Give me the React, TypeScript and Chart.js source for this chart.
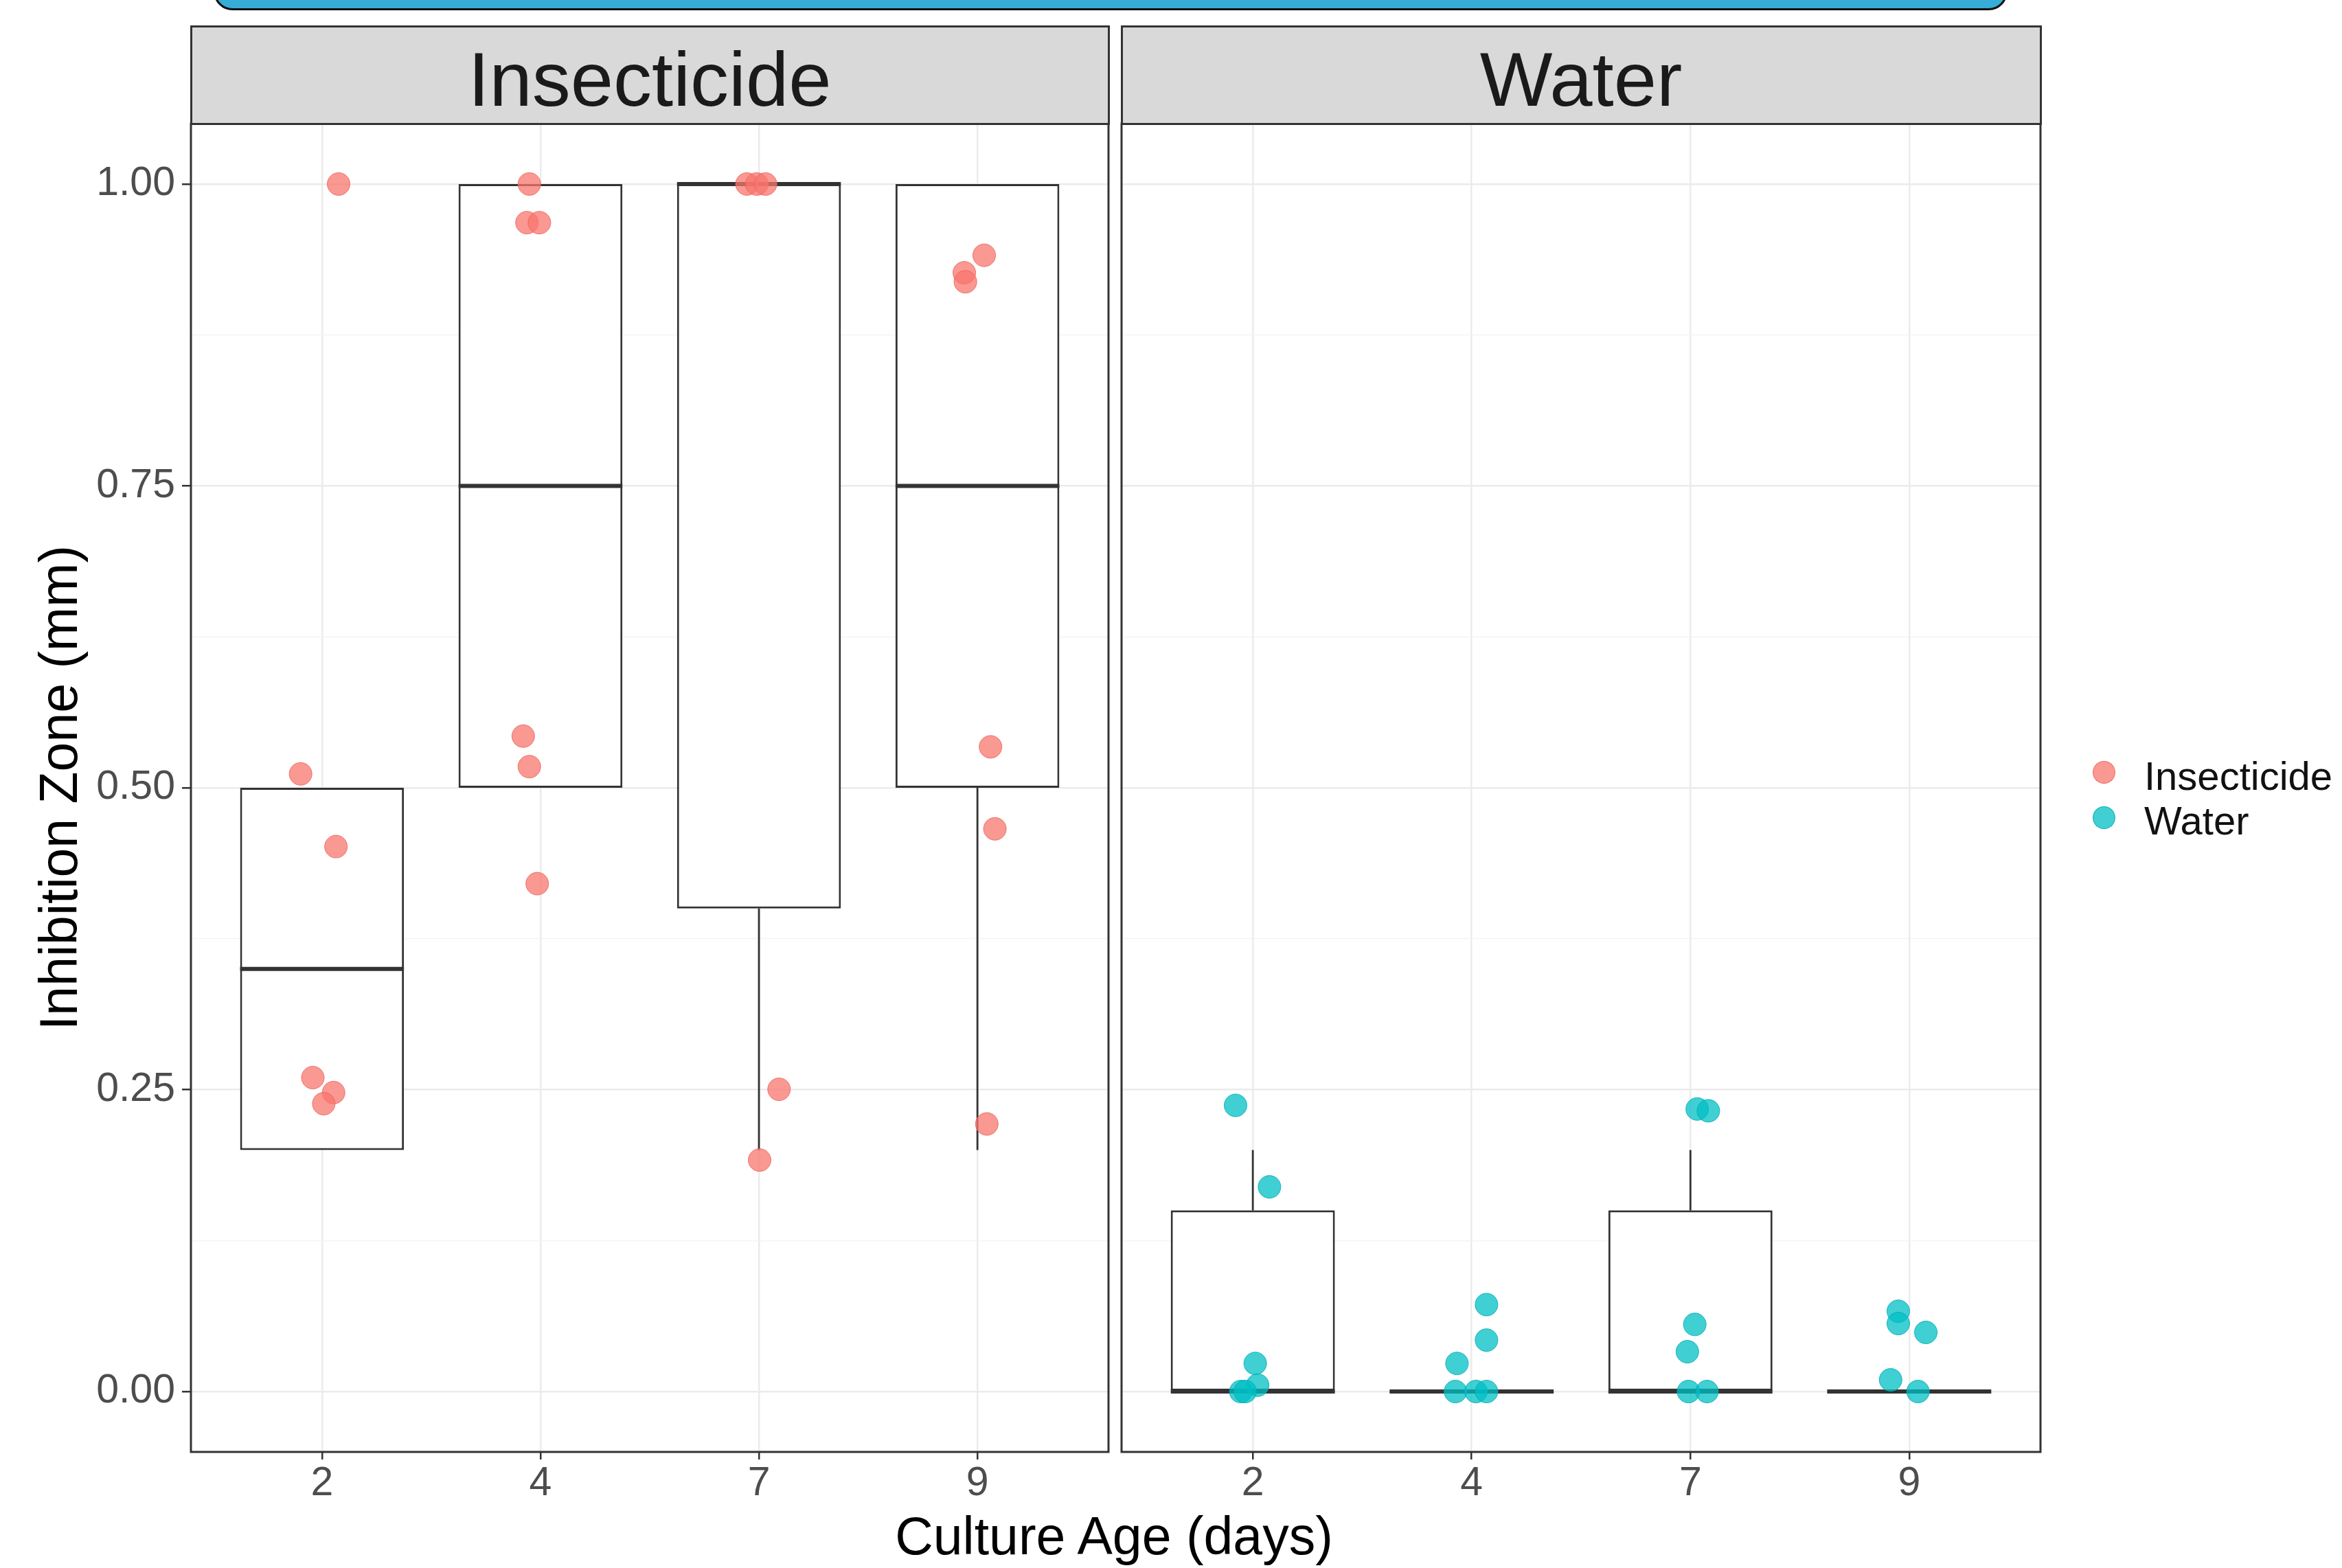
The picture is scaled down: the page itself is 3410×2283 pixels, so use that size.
import React, { useEffect, useRef } from 'react';
import { Chart, registerables } from 'chart.js';

Chart.register(...registerables);

// ---------- data ----------
const days = ['2', '4', '7', '9'];
const dayPositions = [1, 2, 3, 4];
const yMajorTicks = [0, 0.25, 0.5, 0.75, 1.0];
const yMinorTicks = [0.125, 0.375, 0.625, 0.875];

// Insecticide box statistics per day
const insecticideLower = [0.2, 0.5, 0.2, 0.2];
const insecticideQ1 = [0.2, 0.5, 0.4, 0.5];
const insecticideMedian = [0.35, 0.75, 1.0, 0.75];
const insecticideQ3 = [0.5, 1.0, 1.0, 1.0];
const insecticideUpper = [0.5, 1.0, 1.0, 1.0];

// Water box statistics per day
const waterLower = [0, 0, 0, 0];
const waterQ1 = [0, 0, 0, 0];
const waterMedian = [0, 0, 0, 0];
const waterQ3 = [0.15, 0, 0.15, 0];
const waterUpper = [0.2, 0, 0.2, 0];

// Jittered observations (x = day position incl. jitter)
const insecticidePointX = [
  1.076, 0.902, 1.064, 0.958, 1.053, 1.008,
  1.949, 1.938, 1.995, 1.921, 1.949, 1.985,
  2.945, 2.99, 3.03, 3.092, 3.003,
  4.031, 3.94, 3.945, 4.06, 4.08, 4.043,
];
const insecticidePointY = [
  1.0, 0.5115, 0.4513, 0.26, 0.2476, 0.2384,
  1.0, 0.968, 0.968, 0.5428, 0.5175, 0.4206,
  1.0, 1.0, 1.0, 0.2503, 0.1917,
  0.941, 0.9265, 0.919, 0.5339, 0.466, 0.2216,
];
const waterPointX = [
  0.921, 1.076, 1.011, 1.022, 0.945, 0.965,
  2.068, 2.068, 1.933, 1.926, 2.02, 2.068,
  3.031, 3.082, 3.02, 2.986, 2.991, 3.076,
  3.95, 3.95, 4.076, 3.915, 4.04,
];
const waterPointY = [
  0.237, 0.1695, 0.0233, 0.0053, 0, 0,
  0.072, 0.0426, 0.0233, 0, 0, 0,
  0.234, 0.2325, 0.0556, 0.033, 0, 0,
  0.0665, 0.0563, 0.049, 0.0097, 0,
];

const groups = ['Insecticide', 'Water'];

// ---------- styles ----------
const FONT = '"Liberation Sans", Arial, Helvetica, sans-serif';
const INS_FILL = 'rgba(248,118,109,0.75)';
const INS_STROKE = 'rgba(235,100,92,0.85)';
const WAT_FILL = 'rgba(0,191,196,0.75)';
const WAT_STROKE = 'rgba(0,172,178,0.85)';
const DARK = '#333333';

const boxExtras = {
  id: 'boxExtras',
  afterDatasetDraw(chart: any, args: any, opts: any) {
    if (args.index !== 0 || !opts || !opts.median) return;
    const xs = chart.scales.x;
    const ys = chart.scales.y;
    const meta = chart.getDatasetMeta(0);
    const ctx = chart.ctx;
    ctx.save();
    ctx.strokeStyle = DARK;
    ctx.lineCap = 'butt';
    const line = (x1: number, y1: number, x2: number, y2: number, w: number) => {
      ctx.lineWidth = w;
      ctx.beginPath();
      ctx.moveTo(x1, y1);
      ctx.lineTo(x2, y2);
      ctx.stroke();
    };
    dayPositions.forEach((pos, i) => {
      const el = meta.data[i];
      const half = el ? el.getProps(['width'], true).width / 2 : 0;
      const cx = xs.getPixelForValue(pos);
      if (opts.upper[i] > opts.q3[i]) {
        line(cx, ys.getPixelForValue(opts.q3[i]), cx, ys.getPixelForValue(opts.upper[i]), 2.8);
      }
      if (opts.lower[i] < opts.q1[i]) {
        line(cx, ys.getPixelForValue(opts.q1[i]), cx, ys.getPixelForValue(opts.lower[i]), 2.8);
      }
      const my = ys.getPixelForValue(opts.median[i]);
      line(cx - half, my, cx + half, my, 6);
    });
    ctx.restore();
  },
};

const panelBorder = {
  id: 'panelBorder',
  afterDraw(chart: any) {
    const { left, top, right, bottom } = chart.chartArea;
    const ctx = chart.ctx;
    ctx.save();
    ctx.strokeStyle = DARK;
    ctx.lineWidth = 3;
    ctx.strokeRect(left, top, right - left, bottom - top);
    ctx.restore();
  },
};

type PanelSpec = {
  name: string;
  lower: number[];
  q1: number[];
  median: number[];
  q3: number[];
  upper: number[];
  px: number[];
  py: number[];
  fill: string;
  stroke: string;
  showY: boolean;
};

function makeConfig(p: PanelSpec): any {
  const isMajor = (v: number) => yMajorTicks.some((t) => Math.abs(t - v) < 1e-9);
  return {
    type: 'scatter',
    data: {
      datasets: [
        {
          type: 'bar',
          label: p.name + ' box',
          data: dayPositions.map((x, i) => ({ x, y: [p.q1[i], p.q3[i]] })),
          backgroundColor: '#ffffff',
          borderColor: DARK,
          borderWidth: 3,
          borderSkipped: false,
          barPercentage: 0.75,
          categoryPercentage: 1,
          order: 2,
        },
        {
          type: 'scatter',
          label: p.name,
          data: p.px.map((x, i) => ({ x, y: p.py[i] })),
          pointRadius: 16.5,
          pointHoverRadius: 16.5,
          backgroundColor: p.fill,
          borderColor: p.stroke,
          borderWidth: 1,
          order: 1,
        },
      ],
    },
    options: {
      animation: false,
      responsive: false,
      maintainAspectRatio: false,
      devicePixelRatio: 1,
      events: [],
      layout: { padding: { top: 180, right: 20, bottom: 0, left: p.showY ? 0 : 20 } },
      plugins: {
        legend: { display: false },
        tooltip: { enabled: false },
        boxExtras: { lower: p.lower, q1: p.q1, median: p.median, q3: p.q3, upper: p.upper },
      },
      scales: {
        x: {
          type: 'linear',
          min: 0.4,
          max: 4.6,
          offset: false,
          afterBuildTicks: (s: any) => {
            s.ticks = dayPositions.map((v) => ({ value: v }));
          },
          afterFit: (s: any) => {
            s.height = 169;
          },
          border: { display: false },
          grid: {
            offset: false,
            color: '#ebebeb',
            lineWidth: 2.5,
            tickColor: DARK,
            tickWidth: 2.5,
            tickLength: 11,
          },
          ticks: {
            autoSkip: false,
            maxRotation: 0,
            padding: 0,
            color: '#4d4d4d',
            font: { family: FONT, size: 59 },
            callback: (v: number) => {
              const i = dayPositions.indexOf(v);
              return i >= 0 ? days[i] : '';
            },
          },
        },
        y: {
          type: 'linear',
          min: -0.05,
          max: 1.05,
          offset: false,
          afterBuildTicks: (s: any) => {
            s.ticks = [...yMajorTicks, ...yMinorTicks].sort((a, b) => a - b).map((v) => ({ value: v }));
          },
          afterFit: (s: any) => {
            s.width = p.showY ? 278 : 0;
          },
          border: { display: false },
          grid: {
            offset: false,
            color: (c: any) => (c.tick && isMajor(c.tick.value) ? '#ebebeb' : '#f2f2f2'),
            lineWidth: (c: any) => (c.tick && isMajor(c.tick.value) ? 2.5 : 1.3),
            drawTicks: p.showY,
            tickColor: (c: any) => (c.tick && isMajor(c.tick.value) ? DARK : 'rgba(0,0,0,0)'),
            tickWidth: 2.5,
            tickLength: 13,
          },
          ticks: {
            display: p.showY,
            autoSkip: false,
            padding: 10,
            color: '#4d4d4d',
            font: { family: FONT, size: 59 },
            callback: (v: number) => (isMajor(v) ? v.toFixed(2) : ''),
          },
          title: {
            display: p.showY,
            text: 'Inhibition Zone (mm)',
            color: '#000000',
            font: { family: FONT, size: 77 },
            padding: { top: 45, bottom: 0 },
          },
        },
      },
    },
    plugins: [boxExtras, panelBorder],
  };
}

function Panel({ spec, left, width }: { spec: PanelSpec; left: number; width: number }) {
  const ref = useRef<HTMLCanvasElement | null>(null);
  useEffect(() => {
    if (!ref.current) return;
    const chart = new Chart(ref.current, makeConfig(spec));
    return () => chart.destroy();
  }, []);
  return (
    <canvas
      ref={ref}
      width={width}
      height={2283}
      style={{ position: 'absolute', left, top: 0, width, height: 2283 }}
    />
  );
}

const insecticideSpec: PanelSpec = {
  name: groups[0],
  lower: insecticideLower,
  q1: insecticideQ1,
  median: insecticideMedian,
  q3: insecticideQ3,
  upper: insecticideUpper,
  px: insecticidePointX,
  py: insecticidePointY,
  fill: INS_FILL,
  stroke: INS_STROKE,
  showY: true,
};

const waterSpec: PanelSpec = {
  name: groups[1],
  lower: waterLower,
  q1: waterQ1,
  median: waterMedian,
  q3: waterQ3,
  upper: waterUpper,
  px: waterPointX,
  py: waterPointY,
  fill: WAT_FILL,
  stroke: WAT_STROKE,
  showY: false,
};

function Strip({ left, width, text }: { left: number; width: number; text: string }) {
  return (
    <div
      style={{
        position: 'absolute',
        left: left - 1.5,
        top: 37,
        width: width + 3,
        height: 145,
        boxSizing: 'border-box',
        background: '#d9d9d9',
        border: '3px solid ' + DARK,
      }}
    >
      <div
        style={{
          position: 'absolute',
          left: 0,
          right: 0,
          top: 20,
          textAlign: 'center',
          fontFamily: FONT,
          fontSize: 112,
          lineHeight: '112px',
          color: '#1a1a1a',
          whiteSpace: 'nowrap',
        }}
      >
        {text}
      </div>
    </div>
  );
}

export default function App() {
  const legendColors = [INS_FILL, WAT_FILL];
  const legendStrokes = [INS_STROKE, WAT_STROKE];
  return (
    <div
      style={{
        position: 'absolute',
        left: 0,
        top: 0,
        width: 3410,
        height: 2283,
        background: '#ffffff',
        overflow: 'hidden',
      }}
    >
      <div
        style={{
          position: 'absolute',
          left: 311,
          top: -40,
          width: 2612,
          height: 55,
          boxSizing: 'border-box',
          background: '#36acd6',
          border: '3px solid #111111',
          borderRadius: 30,
        }}
      />
      <Panel spec={insecticideSpec} left={0} width={1634} />
      <Panel spec={waterSpec} left={1613} width={1378} />
      <Strip left={278} width={1336} text={groups[0]} />
      <Strip left={1633} width={1338} text={groups[1]} />
      <div
        style={{
          position: 'absolute',
          left: 622,
          width: 2000,
          top: 2198,
          textAlign: 'center',
          fontFamily: FONT,
          fontSize: 77,
          lineHeight: '77px',
          color: '#000000',
          whiteSpace: 'nowrap',
        }}
      >
        Culture Age (days)
      </div>
      {groups.map((g, i) => (
        <React.Fragment key={g}>
          <div
            style={{
              position: 'absolute',
              left: 3063 - 16.5,
              top: (i === 0 ? 1124 : 1190) - 16.5,
              width: 33,
              height: 33,
              boxSizing: 'border-box',
              borderRadius: '50%',
              background: legendColors[i],
              border: '1px solid ' + legendStrokes[i],
            }}
          />
          <div
            style={{
              position: 'absolute',
              left: 3122,
              top: i === 0 ? 1101 : 1166,
              fontFamily: FONT,
              fontSize: 58,
              lineHeight: '58px',
              color: '#111111',
              whiteSpace: 'nowrap',
            }}
          >
            {g}
          </div>
        </React.Fragment>
      ))}
    </div>
  );
}
